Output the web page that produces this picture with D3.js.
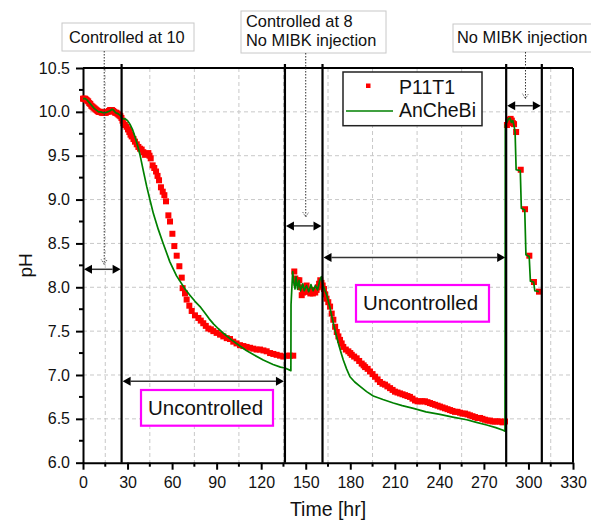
<!DOCTYPE html>
<html>
<head>
<meta charset="utf-8">
<script src="https://cdn.jsdelivr.net/npm/d3@7"></script>
<style>
html,body{margin:0;padding:0;background:#fff;}
svg{display:block;font-family:"Liberation Sans",Arial,sans-serif;}
</style>
</head>
<body>
<svg id="chart" width="591" height="522"></svg>
<script>
// ---------- DATA ----------
const xTicks = [0,30,60,90,120,150,180,210,240,270,300,330];
const yTicks = [6.0,6.5,7.0,7.5,8.0,8.5,9.0,9.5,10.0,10.5];
const seriesNames = ["P11T1","AnCheBi"];

const p11t1Time = [0,0.7,1.4,2.1,2.8,3.5,4.2,4.9,5.6,6.3,7,7.7,8.4,9.1,9.8,10.5,11.2,11.9,12.6,13.3,14,14.7,15.4,16.1,16.8,17.5,18.2,18.9,19.6,20.3,21,21.7,22.4,23.1,23.8,24.5,25.2,25.9,
26.6,27.2,28.2,29.4,30.3,31.2,32,32.8,34,35,36.2,37.3,38.4,39.5,40.6,41.8,43,44,44.8,45.6,46.9,48,49.2,50.2,51.2,52.5,53.7,54.8,55.9,57.5,58.6,60.2,61.5,63.1,64.9,66.5,67.1,68.7,69.8,71.6,73.2,75.4,77.7,79.3,81,82.7,84.4,86.1,87.8,90,92.3,94.5,96.8,99,101.2,103.4,105.7,108,110.2,112.5,114.7,116.9,119.2,121.5,123.7,126,128.2,130.4,132.7,134.9,137.2,139.4,141.6,
142.3,143,143.8,144.6,145.7,146.5,147.3,148.2,149,149.8,150.6,151.5,152.3,153.1,154,154.8,155.6,156.4,157.3,158.1,159,159.8,160.6,161.4,162.3,163.1,164,165.2,166.4,167.5,168.6,169.8,170.9,172,173.1,174.2,175.3,177,178.7,180,181,182.6,184.3,186,187.7,189,190,191.7,193.3,195,196.7,198.4,200,201.7,203.4,205,206.8,208.5,210.1,211.8,213.5,215.2,216.9,218.5,220.2,221.9,223.6,225.3,227,228.6,230.3,232,233.7,235.4,237.1,238.8,240.4,242.1,243.8,245.5,247.2,248.8,250.5,252.2,253.9,255.6,257.3,259,260.6,262.3,264,265.7,267.4,269,270.7,272.4,274.1,275.8,277.5,279.2,280.8,282.5,284.2,
285.5,286.4,287.2,288,288.8,289.6,290.3,291.7,294.8,297.7,300.6,303.7,307.1];
const p11t1PH = [10.15,10.15,10.15,10.14,10.13,10.12,10.10,10.09,10.07,10.06,10.05,10.04,10.03,10.02,10.01,10.00,10.00,10.00,9.99,9.99,9.99,9.99,9.99,10.00,10.00,10.01,10.02,10.02,10.02,10.01,10.00,9.99,9.99,9.98,9.97,9.96,9.95,9.93,
9.90,9.87,9.85,9.83,9.80,9.77,9.74,9.72,9.69,9.66,9.63,9.60,9.58,9.57,9.54,9.51,9.52,9.53,9.50,9.47,9.39,9.36,9.32,9.27,9.22,9.14,9.09,9.05,8.98,8.82,8.75,8.61,8.47,8.36,8.24,8.11,7.99,7.93,7.86,7.79,7.73,7.68,7.65,7.62,7.59,7.56,7.53,7.52,7.50,7.48,7.46,7.44,7.42,7.41,7.38,7.36,7.34,7.33,7.32,7.31,7.30,7.29,7.29,7.28,7.27,7.25,7.24,7.23,7.22,7.21,7.22,7.22,7.22,
8.18,8.10,8.05,8.08,8.08,8.00,7.91,7.94,7.98,7.95,8.02,7.95,7.97,7.93,7.97,7.93,7.96,7.94,7.97,8.00,8.04,8.08,8.05,8.02,7.98,7.92,7.87,7.83,7.78,7.70,7.63,7.55,7.49,7.44,7.40,7.36,7.32,7.29,7.27,7.25,7.23,7.21,7.19,7.16,7.13,7.11,7.09,7.07,7.04,7.01,6.98,6.95,6.92,6.90,6.89,6.87,6.85,6.83,6.81,6.80,6.79,6.78,6.77,6.76,6.75,6.73,6.71,6.70,6.70,6.70,6.70,6.69,6.68,6.67,6.66,6.65,6.64,6.63,6.62,6.61,6.60,6.59,6.58,6.58,6.57,6.56,6.56,6.55,6.54,6.53,6.52,6.51,6.51,6.50,6.49,6.48,6.48,6.47,6.47,6.47,6.47,6.46,6.47,
9.85,9.89,9.91,9.92,9.90,9.87,9.86,9.77,9.34,8.89,8.36,8.06,7.95];

const ancheTime = [0,1.5,3,4.5,6,7.5,9,10.5,12,13.5,15,16.5,18,19.5,20.5,22,23.5,25,26,27,28.5,30,31.6,33.3,35,36.7,38.4,40.6,42.9,45.2,47.4,50.7,54,58.5,63,65.3,68.7,72,75.4,78.8,82,85,88,91,95,100,105.7,110,115,121.4,128,133,136,140,140.1,141.2,142,142.8,143.5,144.5,145.5,146.5,148,149,150.5,152,153.5,155,156.5,158,159.5,160.5,161.5,163,164,165.5,166.4,168.6,170.3,172,173.7,175.3,177.5,179.8,183,186.6,191,195.5,202,209,215,222.5,231,240.4,249,258.4,265,271.9,278,283,284.2,284.4,285.5,286.5,287.5,288.5,289.5,290.5,291,291.7,294.5,295.2,297.5,298.3,300.5,301.3,303.5,304.3,307];
const anchePH = [10.15,10.15,10.13,10.10,10.07,10.04,10.02,10.00,10.00,9.99,9.99,10.00,10.01,10.03,10.02,9.99,9.98,9.96,9.93,9.92,9.92,9.90,9.86,9.80,9.72,9.62,9.51,9.33,9.15,8.99,8.84,8.66,8.50,8.29,8.13,8.07,7.98,7.91,7.84,7.78,7.71,7.64,7.58,7.53,7.47,7.40,7.33,7.28,7.23,7.17,7.12,7.09,7.08,7.05,7.80,8.18,8.05,7.98,8.12,7.98,8.08,7.96,8.04,7.96,8.02,7.95,8.03,7.96,8.02,7.97,8.08,8.12,8.03,7.96,7.92,7.82,7.76,7.59,7.47,7.36,7.26,7.17,7.07,6.98,6.92,6.87,6.81,6.76,6.72,6.68,6.65,6.62,6.58,6.55,6.52,6.49,6.46,6.43,6.40,6.37,6.36,9.85,9.88,9.92,9.93,9.88,9.90,9.82,9.77,9.34,9.33,8.90,8.88,8.37,8.35,8.07,8.06,7.96,7.95];

// phase boundaries (hr)
const boundaries = [26,136,161.3,285,309];
// double-arrow spans: start hr, end hr, pH level
const spanStart = [0,26,136,161.3,285];
const spanEnd   = [26,136,161.3,285,309];
const spanPH    = [8.205,6.93,8.70,8.34,10.07];
// annotation labels
const noteLines = [["Controlled at 10"],["Controlled at 8","No MIBK injection"],["No MIBK injection"]];
const noteHr = [14.3,150,298];
const noteEndPH = [8.26,8.80,10.15];
const uncLabel = "Uncontrolled";

// ---------- CHART ----------
const svg = d3.select("#chart");
const x = d3.scaleLinear().domain([0,330]).range([83,573]);
const y = d3.scaleLinear().domain([6,10.5]).range([462.7,68]);
const FONT = '"Liberation Sans",Arial,sans-serif';

// grid
const g = svg.append("g");
g.selectAll(".vg").data(d3.range(15,330,30)).join("line")
  .attr("x1",d=>x(d)).attr("x2",d=>x(d)).attr("y1",y(10.5)).attr("y2",y(6))
  .attr("stroke","#c8c8c8").attr("stroke-width",1).attr("stroke-dasharray","4,3");
g.selectAll(".hg").data(yTicks.filter(v=>v>6 && v<10.5)).join("line")
  .attr("x1",x(0)).attr("x2",x(330)).attr("y1",d=>y(d)).attr("y2",d=>y(d))
  .attr("stroke","#c8c8c8").attr("stroke-width",1).attr("stroke-dasharray","4,3");

// frame top/right
svg.append("line").attr("x1",x(0)).attr("x2",x(330)).attr("y1",y(10.5)).attr("y2",y(10.5)).attr("stroke","#000").attr("stroke-width",2);
svg.append("line").attr("x1",x(330)).attr("x2",x(330)).attr("y1",y(10.5)).attr("y2",y(6)).attr("stroke","#000").attr("stroke-width",2);

// axes
const yAxis = d3.axisLeft(y).tickValues(yTicks).tickFormat(d3.format(".1f")).tickSize(7).tickSizeOuter(0).tickPadding(6);
const yg = svg.append("g").attr("transform",`translate(${x(0)},0)`).call(yAxis);
const xAxis = d3.axisBottom(x).tickValues(xTicks).tickSize(7).tickSizeOuter(0).tickPadding(7);
const xg = svg.append("g").attr("transform",`translate(0,${y(6)})`).call(xAxis);
[yg,xg].forEach(a=>{
  a.select(".domain").attr("stroke","#000").attr("stroke-width",2);
  a.selectAll(".tick line").attr("stroke","#000").attr("stroke-width",2);
  a.selectAll(".tick text").attr("font-size",16).attr("font-family",FONT).attr("fill","#111");
});
// minor ticks
svg.append("g").selectAll("line").data(d3.range(6.25,10.5,0.5)).join("line")
  .attr("x1",x(0)-4).attr("x2",x(0)).attr("y1",d=>y(d)).attr("y2",d=>y(d)).attr("stroke","#000").attr("stroke-width",2);
svg.append("g").selectAll("line").data(d3.range(15,330,30)).join("line")
  .attr("x1",d=>x(d)).attr("x2",d=>x(d)).attr("y1",y(6)).attr("y2",y(6)+4).attr("stroke","#000").attr("stroke-width",2);

// axis titles
svg.append("text").attr("transform",`translate(32,${y(8.25)}) rotate(-90)`).attr("text-anchor","middle")
  .attr("font-size",19).attr("font-family",FONT).attr("fill","#111").text("pH");
svg.append("text").attr("x",(x(0)+x(330))/2).attr("y",516).attr("text-anchor","middle")
  .attr("font-size",19.5).attr("font-family",FONT).attr("fill","#111").text("Time [hr]");

// data: red squares
const pts = p11t1Time.map((t,i)=>[t,p11t1PH[i]]);
svg.append("g").selectAll("rect").data(pts).join("rect")
  .attr("x",d=>x(d[0])-3).attr("y",d=>y(d[1])-3).attr("width",6).attr("height",6).attr("fill","#ff0000");
// green line
const line = d3.line().x(d=>x(d[0])).y(d=>y(d[1]));
svg.append("path").datum(ancheTime.map((t,i)=>[t,anchePH[i]])).attr("d",line)
  .attr("fill","none").attr("stroke","#008000").attr("stroke-width",1.7).attr("stroke-linejoin","round");

// phase boundary lines
svg.append("g").selectAll("line").data(boundaries).join("line")
  .attr("x1",d=>x(d)).attr("x2",d=>x(d)).attr("y1",64).attr("y2",y(6))
  .attr("stroke","#000").attr("stroke-width",2.2);

// double arrows
const ah = 8, aw = 4.5;
spanStart.forEach((s,i)=>{
  const x1 = x(s)+1, x2 = x(spanEnd[i])-1, yy = y(spanPH[i]);
  const ga = svg.append("g");
  ga.append("line").attr("x1",x1+ah).attr("x2",x2-ah).attr("y1",yy).attr("y2",yy).attr("stroke","#333").attr("stroke-width",1.5);
  ga.append("path").attr("d",`M${x1},${yy}L${x1+ah},${yy-aw}L${x1+ah},${yy+aw}Z`).attr("fill","#000");
  ga.append("path").attr("d",`M${x2},${yy}L${x2-ah},${yy-aw}L${x2-ah},${yy+aw}Z`).attr("fill","#000");
});

// annotation boxes
const boxes = [
  {x0:62,y0:23,x1:194,y1:51,tx:69,base:[43.3]},
  {x0:241,y0:11,x1:386,y1:53,tx:246,base:[26.5,46]},
  {x0:453,y0:24,x1:592,y1:52,tx:457,base:[43.3]}
];
boxes.forEach((b,i)=>{
  svg.append("rect").attr("x",b.x0).attr("y",b.y0).attr("width",b.x1-b.x0).attr("height",b.y1-b.y0)
    .attr("fill","#fff").attr("stroke","#c8c8c8").attr("stroke-width",1);
  noteLines[i].forEach((l,j)=>{
    svg.append("text").attr("x",b.tx).attr("y",b.base[j]).attr("font-size",16.4).attr("font-family",FONT).attr("fill","#111").text(l);
  });
  const px = x(noteHr[i]), pyEnd = y(noteEndPH[i]);
  svg.append("line").attr("x1",px).attr("x2",px).attr("y1",b.y1).attr("y2",pyEnd)
    .attr("stroke","#333").attr("stroke-width",1).attr("stroke-dasharray","1.5,1.5");
  svg.append("path").attr("d",`M${px-3},${pyEnd-5}L${px},${pyEnd}L${px+3},${pyEnd-5}`)
    .attr("fill","none").attr("stroke","#555").attr("stroke-width",1).attr("stroke-dasharray","1,1");
});

// Uncontrolled boxes
const ubox = [{x0:141,y0:390,x1:273,y1:425.7,tx:148,base:415},{x0:356,y0:285,x1:489,y1:321.7,tx:363,base:310}];
ubox.forEach(b=>{
  svg.append("rect").attr("x",b.x0).attr("y",b.y0).attr("width",b.x1-b.x0).attr("height",b.y1-b.y0)
    .attr("fill","#fff").attr("stroke","#ff00ff").attr("stroke-width",2.2);
  svg.append("text").attr("x",b.tx).attr("y",b.base).attr("font-size",20.5).attr("font-family",FONT).attr("fill","#111").text(uncLabel);
});

// legend
const lg = svg.append("g");
lg.append("rect").attr("x",343).attr("y",72).attr("width",139).attr("height",53.7).attr("fill","#fff").attr("stroke","#222").attr("stroke-width",1.5);
lg.append("rect").attr("x",366).attr("y",83.5).attr("width",4.5).attr("height",4.5).attr("fill","#ff0000");
lg.append("line").attr("x1",346).attr("x2",393).attr("y1",111).attr("y2",111).attr("stroke","#008000").attr("stroke-width",1.7);
lg.append("text").attr("x",399).attr("y",93.5).attr("font-size",19.5).attr("font-family",FONT).attr("fill","#111").text(seriesNames[0]);
lg.append("text").attr("x",399).attr("y",117).attr("font-size",19.5).attr("font-family",FONT).attr("fill","#111").text(seriesNames[1]);
</script>
</body>
</html>
